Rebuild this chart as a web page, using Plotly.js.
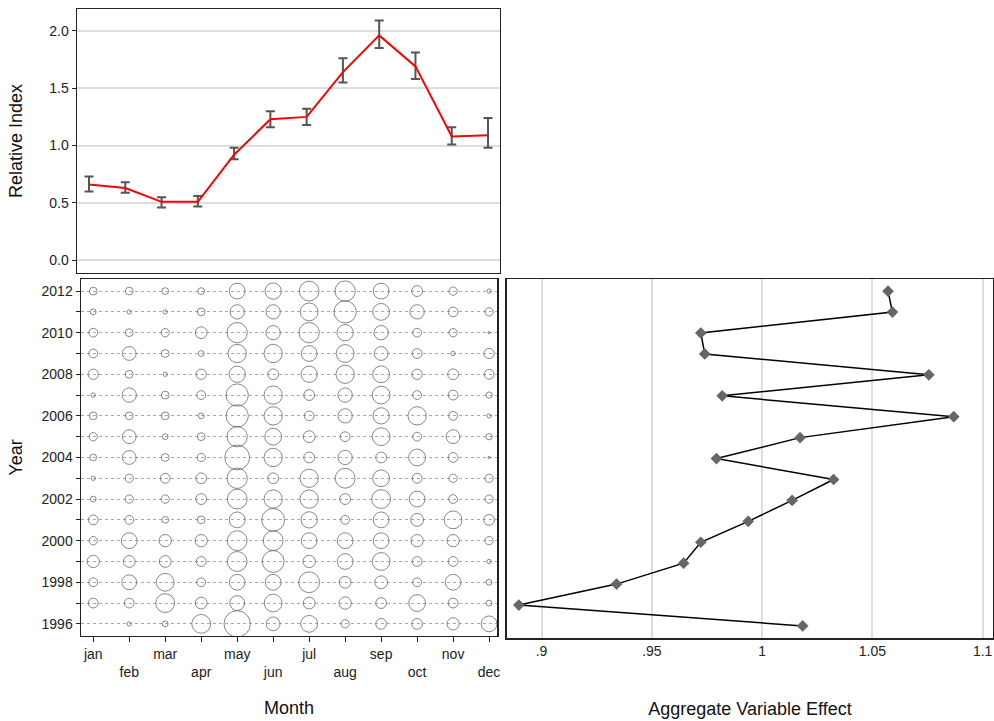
<!DOCTYPE html>
<html>
<head>
<meta charset="utf-8">
<script src="https://cdn.plot.ly/plotly-3.0.1.min.js"></script>
<style>html,body{margin:0;padding:0;background:#fff;}#chart{width:994px;height:721px;}</style>
</head>
<body>
<div id="chart"></div>
<script>
// ---- Data ----
var monthNums = [1,2,3,4,5,6,7,8,9,10,11,12];
var monthLabels = ["jan","feb","mar","apr","may","jun","jul","aug","sep","oct","nov","dec"];

// Top panel: relative index by month with error bars
var relIndex = [0.66,0.63,0.51,0.51,0.92,1.23,1.25,1.64,1.96,1.69,1.08,1.09];
var relUpper = [0.73,0.68,0.55,0.56,0.98,1.30,1.32,1.76,2.09,1.81,1.16,1.24];
var relLower = [0.60,0.59,0.46,0.47,0.88,1.16,1.18,1.55,1.85,1.58,1.01,0.98];

// Years
var years = [2012,2011,2010,2009,2008,2007,2006,2005,2004,2003,2002,2001,2000,1999,1998,1997,1996];
var yearTickVals = [1996,1997,1998,1999,2000,2001,2002,2003,2004,2005,2006,2007,2008,2009,2010,2011,2012];
var yearTickText = ["1996","","1998","","2000","","2002","","2004","","2006","","2008","","2010","","2012"];

// Bubble sizes (rows = years above, cols = months jan..dec)
var bubbleSizes = [
  [7,7,6,6,15,15.5,19,19.5,15,10,7.5,3.5],     // 2012
  [5,3.5,3.5,7,13.5,13.5,17,21.5,16,13.5,9,7.5], // 2011
  [8,7,7.5,11,19.5,13.5,19.5,15.5,13.5,8,7.5,1.5], // 2010
  [8,13,7,5,17.5,17.5,15,17,13,9,3.5,9.5],     // 2009
  [9.5,7,3.5,9.5,15.5,10,15.5,17.5,16,9.5,10,9], // 2008
  [3.5,13.5,7,8,21.5,17.5,10,13.5,17,8,9,5.5], // 2007
  [7,7,7,5,21.5,17.5,9,13.5,15.5,17.5,8,3.5],  // 2006
  [7.5,13,5,7,19.5,16,11,9,17,8,13,5.5],       // 2005
  [6,13,7,7.5,24,17.5,10,13.5,10,16,9,1.5],    // 2004
  [3.5,7.5,9,10,19.5,10,17.5,19,16,9,7.5,7.5], // 2003
  [5,7.5,7.5,10,19,17.5,17.5,10,18,15,8,7.5],  // 2002
  [9,8,6,7,15,22,15.5,8,15,12,17,10],          // 2001
  [7.5,15,11.5,11.5,19,19,15,15,15,11.5,11.5,7.5], // 2000
  [11.5,11,11,9,19,21,11.5,15,17,9,9,3.5],     // 1999
  [8,14,17,8,15,15,20,11,12,8,15,5],           // 1998
  [9,9,18,11,14,17,11,11.5,10,16,9,5],         // 1997
  [0,3.5,5,18,25.5,13,16,7.5,10,10,11.5,15]    // 1996
];

// Right panel: aggregate variable effect by year (same order as years)
var yearEffect = [1.0571,1.0591,0.9722,0.9740,1.0756,0.9819,1.0869,1.0172,0.9793,1.0324,1.0136,0.9937,0.9722,0.9644,0.9340,0.8897,1.0184];

var effectTickVals = [0.9,0.95,1,1.05,1.1];
var effectTickText = [".9",".95","1","1.05","1.1"];
var relTickVals = [0,0.5,1,1.5,2];
var relTickText = ["0.0","0.5","1.0","1.5","2.0"];

// ---- Build traces ----
var errPlus = relUpper.map(function(u,i){return u - relIndex[i];});
var errMinus = relLower.map(function(l,i){return relIndex[i] - l;});

var traces = [];
traces.push({
  x: monthNums, y: relIndex, type: 'scatter', mode: 'lines',
  line: {color: '#ff0000', width: 2},
  error_y: {type: 'data', symmetric: false, array: errPlus, arrayminus: errMinus,
            color: '#555555', thickness: 2, width: 4.5},
  xaxis: 'x', yaxis: 'y', hoverinfo: 'skip', showlegend: false
});

var bx = [], by = [], bs = [];
years.forEach(function(yr, r){
  monthNums.forEach(function(m, c){
    bx.push(m); by.push(yr); bs.push(bubbleSizes[r][c] > 0 ? bubbleSizes[r][c] + 0.8 : 0);
  });
});
traces.push({
  x: bx, y: by, type: 'scatter', mode: 'markers',
  marker: {symbol: 'circle-open', size: bs, color: '#555555', line: {width: 1, color: '#555555'}},
  xaxis: 'x2', yaxis: 'y2', hoverinfo: 'skip', showlegend: false
});

traces.push({
  x: yearEffect, y: years, type: 'scatter', mode: 'lines+markers',
  line: {color: '#000000', width: 1.5},
  marker: {symbol: 'diamond', size: 9, color: '#666666'},
  xaxis: 'x3', yaxis: 'y3', hoverinfo: 'skip', showlegend: false
});

var bubbleTickText = monthLabels.map(function(t,i){ return (i % 2 === 1) ? '<br>' + t : t; });

var fontFam = '"Liberation Sans", Arial, sans-serif';
var tickFont = {family: fontFam, size: 14, color: '#222'};
var titleFont = {family: fontFam, size: 18, color: '#111'};

var layout = {
  width: 994, height: 721,
  margin: {l: 0, r: 0, t: 0, b: 0},
  paper_bgcolor: '#ffffff', plot_bgcolor: '#ffffff',
  showlegend: false,
  font: {family: fontFam},
  xaxis: {
    domain: [0.0775, 0.503], range: [0.67, 12.33], anchor: 'y',
    showticklabels: false, ticks: '', showgrid: false, zeroline: false,
    showline: true, mirror: true, linecolor: '#222', linewidth: 1.5
  },
  yaxis: {
    domain: [0.6214, 0.9875], range: [-0.11, 2.19], anchor: 'x',
    tickvals: relTickVals, ticktext: relTickText, tickfont: tickFont,
    ticks: 'outside', ticklen: 4, tickcolor: '#222',
    showgrid: true, gridcolor: '#dddddd', gridwidth: 2, zeroline: false,
    showline: true, mirror: true, linecolor: '#222', linewidth: 1.5,
    title: {text: 'Relative Index', font: titleFont, standoff: 22}
  },
  xaxis2: {
    domain: [0.0815, 0.5], range: [0.66, 12.22], anchor: 'y2',
    tickvals: monthNums, ticktext: bubbleTickText, tickfont: tickFont,
    ticks: 'outside', ticklen: 5, tickcolor: '#222', tickangle: 0,
    showgrid: false, zeroline: false,
    showline: true, mirror: true, linecolor: '#222', linewidth: 1.5,
    title: {text: 'Month', font: titleFont, standoff: 22}
  },
  yaxis2: {
    domain: [0.118, 0.613], range: [1995.42, 2012.58], anchor: 'x2',
    tickvals: yearTickVals, ticktext: yearTickText, tickfont: tickFont,
    ticks: 'outside', ticklen: 4, tickcolor: '#222',
    showgrid: true, griddash: 'dot', gridcolor: '#aaaaaa', gridwidth: 1, zeroline: false,
    showline: true, mirror: true, linecolor: '#222', linewidth: 1.5,
    title: {text: 'Year', font: titleFont, standoff: 14}
  },
  xaxis3: {
    domain: [0.510, 0.999], range: [0.8843, 1.1047], anchor: 'y3',
    tickvals: effectTickVals, ticktext: effectTickText, tickfont: tickFont,
    ticks: '', showgrid: true, gridcolor: '#dddddd', gridwidth: 2, zeroline: false,
    showline: true, mirror: true, linecolor: '#222', linewidth: 1.5,
    title: {text: 'Aggregate Variable Effect', font: titleFont, standoff: 44}
  },
  yaxis3: {
    domain: [0.115, 0.613], range: [1995.42, 2012.58], anchor: 'x3',
    showticklabels: false, ticks: '', showgrid: false, zeroline: false,
    showline: true, mirror: true, linecolor: '#222', linewidth: 1.5
  },
  shapes: [{
    type: 'line', xref: 'x3', yref: 'y3 domain', x0: 1, x1: 1, y0: 0, y1: 1,
    line: {color: '#333333', width: 1.5}, layer: 'below'
  }]
};

Plotly.newPlot('chart', traces, layout, {staticPlot: true, displayModeBar: false});
</script>
</body>
</html>
